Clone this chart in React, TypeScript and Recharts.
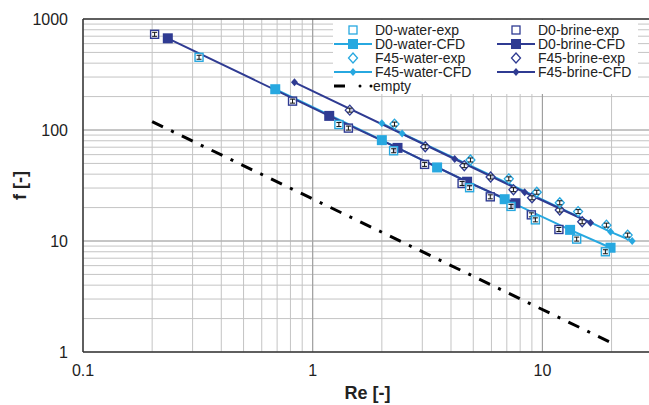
import {
  ScatterChart,
  Scatter,
  XAxis,
  YAxis,
  CartesianGrid,
  ReferenceLine,
  Label,
} from "recharts";

const LIGHT = "#27a8e0";
const DARK = "#2f3b92";
const FONT = "'Liberation Sans', Arial, sans-serif";

const xTicks = [
  0.1, 0.2, 0.3, 0.4, 0.5, 0.6, 0.7, 0.8, 0.9, 1, 2, 3, 4, 5, 6, 7, 8, 9, 10,
  20, 30,
];
const yTicks = [
  1, 2, 3, 4, 5, 6, 7, 8, 9, 10, 20, 30, 40, 50, 60, 70, 80, 90, 100, 200, 300,
  400, 500, 600, 700, 800, 900, 1000,
];
const xLabels = [0.1, 1, 10];
const yLabels = [1, 10, 100, 1000];

// [Re, f]
const d0WaterExp = [
  [0.32, 452], [1.3, 112], [2.25, 65], [4.82, 30.2], [7.3, 20.5],
  [9.32, 15.5], [14.1, 10.4], [18.8, 8.0],
];
const d0BrineExp = [
  [0.205, 728], [0.817, 182], [1.43, 104], [3.07, 49], [4.47, 33],
  [5.93, 25], [8.95, 17.2], [11.8, 12.7],
];
const d0WaterCfd = [
  [0.687, 233], [2.0, 81], [3.48, 46], [6.85, 23.8], [13.2, 12.6], [19.8, 8.7],
];
const d0BrineCfd = [
  [0.234, 670], [1.18, 134], [2.34, 69], [4.7, 34.2], [7.63, 21.9],
];
const f45WaterExp = [
  [2.27, 113], [4.86, 53.7], [7.14, 36.3], [9.45, 27.5], [11.9, 22.1],
  [14.3, 18.4], [19.0, 13.9], [23.5, 11.3],
];
const f45BrineExp = [
  [1.45, 151], [3.09, 70.7], [4.57, 47.7], [5.95, 37.7], [7.48, 29],
  [9.01, 24.5], [11.9, 19], [14.9, 14.9],
];
const f45WaterCfd = [[2.0, 115], [2.45, 93], [19.8, 12.1], [24.6, 10]];
const f45BrineCfd = [[0.833, 269], [4.15, 54.8], [8.37, 27.5], [16.2, 14.6]];
const empty = [[0.2, 119], [19.5, 1.24]];

const pts = (arr: number[][]) => arr.map(([re, f]) => ({ re, f }));

const ErrBar = ({ cx, cy }: any) => (
  <g stroke="#111" strokeWidth={1}>
    <line x1={cx} y1={cy - 2} x2={cx} y2={cy + 2} />
    <line x1={cx - 2.5} y1={cy - 2} x2={cx + 2.5} y2={cy - 2} />
    <line x1={cx - 2.5} y1={cy + 2} x2={cx + 2.5} y2={cy + 2} />
  </g>
);

const openSquare = (color: string) => (p: any) => (
  <g>
    <rect x={p.cx - 4} y={p.cy - 4} width={8} height={8} fill="#fff" fillOpacity={0.7} stroke={color} strokeWidth={1.4} />
    <ErrBar cx={p.cx} cy={p.cy} />
  </g>
);

const openDiamond = (color: string) => (p: any) => (
  <g>
    <polygon
      points={`${p.cx},${p.cy - 5} ${p.cx + 4.5},${p.cy} ${p.cx},${p.cy + 5} ${p.cx - 4.5},${p.cy}`}
      fill="#fff"
      fillOpacity={0.7}
      stroke={color}
      strokeWidth={1.3}
    />
    <ErrBar cx={p.cx} cy={p.cy} />
  </g>
);

const filledSquare = (color: string) => (p: any) => (
  <rect x={p.cx - 5} y={p.cy - 5} width={10} height={10} fill={color} />
);

const smallDiamond = (color: string) => (p: any) => (
  <polygon
    points={`${p.cx},${p.cy - 4} ${p.cx + 3.5},${p.cy} ${p.cx},${p.cy + 4} ${p.cx - 3.5},${p.cy}`}
    fill={color}
  />
);

const noShape = () => <g />;

const legendRows = [
  [
    { name: "D0-water-exp", color: LIGHT, kind: "openSquare" },
    { name: "D0-brine-exp", color: DARK, kind: "openSquare" },
  ],
  [
    { name: "D0-water-CFD", color: LIGHT, kind: "lineSquare" },
    { name: "D0-brine-CFD", color: DARK, kind: "lineSquare" },
  ],
  [
    { name: "F45-water-exp", color: LIGHT, kind: "openDiamond" },
    { name: "F45-brine-exp", color: DARK, kind: "openDiamond" },
  ],
  [
    { name: "F45-water-CFD", color: LIGHT, kind: "lineDiamond" },
    { name: "F45-brine-CFD", color: DARK, kind: "lineDiamond" },
  ],
  [{ name: "empty", color: "#000", kind: "dashDot" }],
];

function LegendIcon({ kind, color }: { kind: string; color: string }) {
  const c = 20;
  return (
    <svg width={40} height={14} style={{ display: "block", flex: "none" }}>
      {kind === "openSquare" && (
        <rect x={c - 4} y={3} width={8} height={8} fill="#fff" stroke={color} strokeWidth={1.3} />
      )}
      {kind === "lineSquare" && (
        <g>
          <line x1={1} y1={7} x2={39} y2={7} stroke={color} strokeWidth={2} />
          <rect x={c - 5} y={2} width={10} height={10} fill={color} />
        </g>
      )}
      {kind === "openDiamond" && (
        <polygon points={`${c},2 ${c + 4.5},7 ${c},12 ${c - 4.5},7`} fill="#fff" stroke={color} strokeWidth={1.3} />
      )}
      {kind === "lineDiamond" && (
        <g>
          <line x1={1} y1={7} x2={39} y2={7} stroke={color} strokeWidth={2} />
          <polygon points={`${c},3 ${c + 3.5},7 ${c},11 ${c - 3.5},7`} fill={color} />
        </g>
      )}
      {kind === "dashDot" && (
        <g fill="#000">
          <rect x={1} y={5.5} width={11} height={3} />
          <circle cx={27} cy={7} r={1.5} />
          <circle cx={38} cy={7} r={1.5} />
        </g>
      )}
    </svg>
  );
}

function ChartLegend() {
  return (
    <div
      style={{
        position: "absolute",
        left: 333,
        top: 20,
        width: 305,
        height: 74,
        background: "#fff",
      }}
    >
      {legendRows.map((row, ri) =>
        row.map((item, ci) => (
          <div
            key={item.name}
            style={{
              position: "absolute",
              left: ci === 0 ? 0 : 163,
              top: 3 + ri * 14,
              display: "flex",
              alignItems: "center",
              height: 14,
              fontFamily: FONT,
              fontSize: 14,
              color: "#222",
              whiteSpace: "nowrap",
            }}
          >
            <LegendIcon kind={item.kind} color={item.color} />
            <span style={{ marginLeft: item.kind === "dashDot" ? 0 : 2, lineHeight: "14px" }}>{item.name}</span>
          </div>
        ))
      )}
    </div>
  );
}

const tickStyle = { fontFamily: FONT, fontSize: 16, fill: "#222" };

export default function App() {
  return (
    <div
      style={{
        position: "absolute",
        left: 0,
        top: 0,
        width: 649,
        height: 405,
        overflow: "hidden",
        background: "#fff",
        fontFamily: FONT,
      }}
    >
      <ScatterChart width={680} height={405} margin={{ top: 19, right: 28, left: 0, bottom: 0 }}>
        <CartesianGrid stroke="#c4c4c4" strokeWidth={1} />
        <XAxis
          type="number"
          dataKey="re"
          scale="log"
          domain={[0.1, 30]}
          allowDataOverflow
          ticks={xTicks}
          interval={0}
          tickFormatter={(v: number) => (xLabels.includes(v) ? String(v) : "")}
          tick={tickStyle}
          tickLine={false}
          tickSize={0}
          tickMargin={13}
          height={53}
          axisLine={{ stroke: "#333", strokeWidth: 1.5 }}
        >
          <Label
            content={(p: any) => {
              const vb = p.viewBox;
              return (
                <text x={vb.x + vb.width / 2} y={399} textAnchor="middle" fontFamily={FONT} fontSize={18} fontWeight="bold" fill="#222">
                  Re [-]
                </text>
              );
            }}
          />
        </XAxis>
        <YAxis
          type="number"
          dataKey="f"
          scale="log"
          domain={[1, 1000]}
          allowDataOverflow
          ticks={yTicks}
          interval={0}
          tickFormatter={(v: number) => (yLabels.includes(v) ? String(v) : "")}
          tick={tickStyle}
          tickLine={false}
          tickSize={0}
          tickMargin={15}
          width={83}
          axisLine={{ stroke: "#333", strokeWidth: 1.5 }}
        >
          <Label
            content={(p: any) => {
              const vb = p.viewBox;
              const x = vb.x + 26;
              const y = vb.y + vb.height / 2;
              return (
                <text x={x} y={y} transform={`rotate(-90 ${x} ${y})`} textAnchor="middle" fontFamily={FONT} fontSize={18} fontWeight="bold" fill="#222">
                  f [-]
                </text>
              );
            }}
          />
        </YAxis>
        <ReferenceLine x={1} stroke="#9a9a9a" />
        <ReferenceLine x={10} stroke="#9a9a9a" />
        <ReferenceLine y={10} stroke="#aaa" />
        <ReferenceLine y={100} stroke="#aaa" />
        <ReferenceLine y={1000} stroke="#333" strokeWidth={1.5} />

        <Scatter
          name="empty"
          data={pts(empty)}
          shape={noShape}
          line={{ stroke: "#000", strokeWidth: 3, strokeDasharray: "12 9 3 9" }}
          isAnimationActive={false}
        />
        <Scatter name="D0-water-CFD line" data={pts(d0WaterCfd)} shape={noShape} line={{ stroke: LIGHT, strokeWidth: 2 }} isAnimationActive={false} />
        <Scatter name="F45-water-CFD line" data={pts(f45WaterCfd)} shape={noShape} line={{ stroke: LIGHT, strokeWidth: 2 }} isAnimationActive={false} />
        <Scatter name="D0-brine-CFD line" data={pts(d0BrineCfd)} shape={noShape} line={{ stroke: DARK, strokeWidth: 2 }} isAnimationActive={false} />
        <Scatter name="F45-brine-CFD line" data={pts(f45BrineCfd)} shape={noShape} line={{ stroke: DARK, strokeWidth: 2 }} isAnimationActive={false} />

        <Scatter name="D0-brine-CFD" data={pts(d0BrineCfd)} shape={filledSquare(DARK)} isAnimationActive={false} />
        <Scatter name="D0-water-CFD" data={pts(d0WaterCfd)} shape={filledSquare(LIGHT)} isAnimationActive={false} />
        <Scatter name="F45-brine-CFD" data={pts(f45BrineCfd)} shape={smallDiamond(DARK)} isAnimationActive={false} />
        <Scatter name="F45-water-CFD" data={pts(f45WaterCfd)} shape={smallDiamond(LIGHT)} isAnimationActive={false} />

        <Scatter name="D0-brine-exp" data={pts(d0BrineExp)} shape={openSquare(DARK)} isAnimationActive={false} />
        <Scatter name="D0-water-exp" data={pts(d0WaterExp)} shape={openSquare(LIGHT)} isAnimationActive={false} />
        <Scatter name="F45-brine-exp" data={pts(f45BrineExp)} shape={openDiamond(DARK)} isAnimationActive={false} />
        <Scatter name="F45-water-exp" data={pts(f45WaterExp)} shape={openDiamond(LIGHT)} isAnimationActive={false} />
      </ScatterChart>
      <ChartLegend />
    </div>
  );
}
